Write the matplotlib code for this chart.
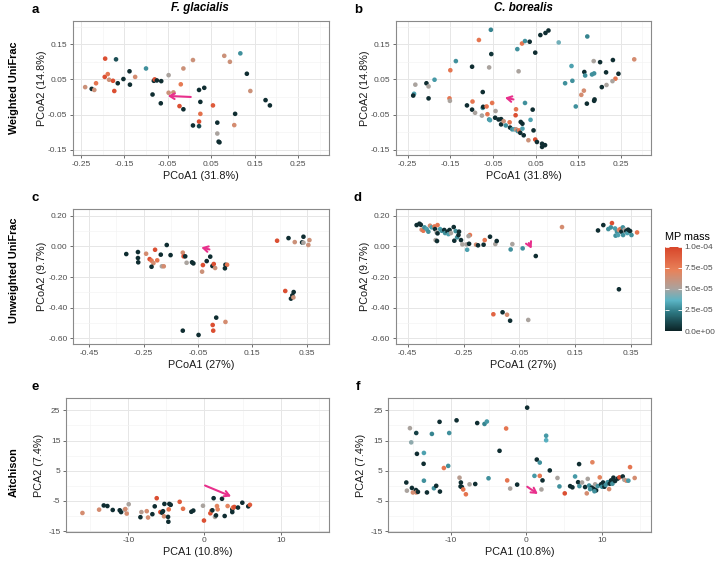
import numpy as np
import matplotlib
matplotlib.use("Agg")
import matplotlib.pyplot as plt
from matplotlib.colors import LinearSegmentedColormap, Normalize
from matplotlib.ticker import FixedLocator

plt.rcParams['font.family'] = ['Liberation Sans', 'DejaVu Sans']

# ---- data (MP mass in units of 1e-5) ----
# a: F. glacialis, weighted UniFrac
a_x = [-0.240, -0.225, -0.219, -0.215, -0.194, -0.195, -0.188, -0.185, -0.176, -0.173,
       -0.169, -0.165, -0.152, -0.138, -0.137, -0.125, -0.100, -0.085, -0.082, -0.080,
       -0.075, -0.065, -0.066, -0.048, -0.048, -0.037, -0.020, -0.014, -0.023, -0.014,
       0.008, 0.022, 0.034, 0.025, 0.025, 0.008, 0.022, 0.022, 0.054, 0.064,
       0.064, 0.067, 0.069, 0.080, 0.093, 0.103, 0.105, 0.117, 0.132, 0.140,
       0.175, 0.185]
a_y = [0.028, 0.023, 0.020, 0.039, 0.109, 0.057, 0.065, 0.049, 0.046, 0.017,
       0.107, 0.039, 0.051, 0.073, 0.035, 0.057, 0.081, 0.007, 0.046, 0.050,
       0.047, 0.045, -0.018, 0.062, 0.012, 0.013, 0.036, 0.081, -0.026, -0.035,
       0.105, 0.020, 0.026, -0.014, -0.048, -0.081, -0.070, -0.083, -0.024, -0.073,
       -0.104, -0.127, -0.129, 0.117, 0.100, -0.080, -0.048, 0.124, 0.066, 0.017,
       -0.009, -0.024]
a_m = [6.2, 0.3, 6.2, 7.8, 9.5, 9.5, 7.8, 6.2, 9.5, 9.5,
       1.2, 0.3, 0.3, 0.3, 0.3, 6.5, 2.8, 0.3, 0.3, 9.5,
       0.3, 0.3, 0.3, 5.0, 6.2, 6.2, 7.5, 6.2, 9.5, 0.3,
       6.2, 0.3, 0.3, 0.3, 8.0, 0.3, 9.5, 1.0, 9.0, 0.3,
       5.0, 0.3, 0.3, 6.2, 6.2, 6.5, 0.3, 2.8, 0.3, 6.2,
       0.3, 0.3]

# b: C. borealis, weighted UniFrac
b_x = [-0.235, -0.237, -0.232, -0.206, -0.201, -0.201, -0.187, -0.150, -0.152, -0.151,
       -0.137, -0.099, -0.083, -0.055, -0.054, -0.059, -0.074, -0.111, -0.098, -0.099,
       -0.092, -0.074, -0.073, -0.065, -0.052, -0.063, -0.076, -0.059, -0.057, -0.044,
       -0.045, -0.037, -0.031, -0.031, -0.025, -0.020, -0.011, -0.010, -0.005, 0.000,
       0.004, 0.008, 0.011, 0.014, 0.019, 0.022, 0.015, 0.019, 0.004, 0.003,
       0.025, 0.043, 0.038, 0.045, 0.033, 0.049, 0.053, 0.065, 0.072, 0.065,
       0.007, 0.018, 0.025, 0.036, 0.049, 0.010, 0.061, 0.073, 0.080, 0.104,
       0.171, 0.134, 0.119, 0.136, 0.144, 0.164, 0.166, 0.186, 0.182, 0.187,
       0.201, 0.215, 0.231, 0.244, 0.281, 0.237, 0.230, 0.216, 0.205, 0.163,
       0.157, 0.170, 0.187, 0.188]
b_y = [0.009, 0.004, 0.035, 0.039, 0.030, -0.004, 0.049, 0.076, -0.004, -0.011,
       0.102, 0.086, 0.162, 0.191, 0.122, 0.084, 0.014, -0.024, -0.013, -0.036,
       -0.045, -0.031, -0.028, -0.027, -0.017, -0.049, -0.053, -0.064, -0.066, -0.040,
       -0.059, -0.064, -0.063, -0.078, -0.069, -0.081, -0.072, -0.087, -0.092, -0.092,
       -0.092, -0.097, -0.095, -0.102, -0.090, -0.109, -0.071, -0.076, -0.035, -0.052,
       -0.017, -0.036, -0.065, -0.095, -0.123, -0.121, -0.128, -0.133, -0.137, -0.142,
       0.136, 0.152, 0.159, 0.157, 0.126, 0.073, 0.176, 0.182, 0.189, 0.155,
       0.172, 0.088, 0.039, 0.046, -0.027, 0.071, 0.061, 0.102, 0.064, 0.067,
       0.099, 0.070, 0.105, 0.066, 0.107, 0.052, 0.045, 0.034, 0.028, 0.018,
       0.006, -0.019, -0.011, -0.007]
b_m = [3.2, 0.3, 5.0, 0.3, 5.0, 0.3, 3.0, 7.8, 7.8, 5.0,
       2.8, 0.3, 7.8, 2.5, 0.5, 5.0, 0.3, 0.3, 7.8, 0.3,
       5.0, 2.8, 0.3, 7.8, 7.8, 7.8, 5.0, 2.8, 3.2, 5.0,
       0.3, 0.3, 0.3, 0.3, 6.2, 2.8, 7.8, 0.3, 2.8, 3.2,
       6.2, 2.8, 7.8, 0.3, 3.2, 0.3, 0.3, 0.3, 7.8, 9.5,
       2.8, 0.3, 3.2, 0.3, 6.2, 9.5, 0.3, 0.3, 0.3, 0.3,
       2.8, 7.8, 2.8, 0.3, 0.3, 5.0, 0.3, 0.3, 0.3, 4.0,
       2.5, 3.2, 2.8, 2.8, 2.8, 0.3, 2.8, 5.0, 2.8, 2.8,
       0.3, 0.3, 0.3, 0.3, 6.5, 7.8, 5.0, 5.0, 0.3, 6.5,
       6.5, 0.3, 0.3, 0.3]

# c: F. glacialis, unweighted UniFrac
c_x = [-0.314, -0.271, -0.271, -0.270, -0.241, -0.228, -0.221, -0.214, -0.221, -0.208,
       -0.200, -0.187, -0.183, -0.176, -0.165, -0.151, -0.106, -0.103, -0.097, -0.092,
       -0.072, -0.067, -0.106, -0.048, -0.035, -0.032, -0.018, -0.005, 0.003, 0.008,
       0.013, 0.004, 0.006, 0.017, 0.051, 0.051, 0.057, 0.049, 0.241, 0.283,
       0.306, 0.333, 0.338, 0.338, 0.356, 0.360, 0.271, 0.292, 0.297, 0.301,
       0.302]
c_y = [-0.050, -0.037, -0.076, -0.104, -0.048, -0.083, -0.093, -0.109, -0.133, -0.022,
       -0.091, -0.054, -0.130, -0.130, 0.009, -0.057, -0.041, -0.065, -0.065, -0.107,
       -0.104, -0.111, -0.550, -0.578, -0.165, -0.122, -0.096, -0.067, -0.128, -0.115,
       -0.141, -0.513, -0.550, -0.465, -0.493, -0.120, -0.120, -0.143, 0.037, 0.054,
       0.028, 0.026, 0.063, 0.024, 0.009, 0.041, -0.291, -0.341, -0.320, -0.333,
       -0.298]
c_m = [0.3, 0.3, 0.3, 0.3, 6.5, 9.5, 7.8, 6.5, 0.3, 9.5,
       7.8, 0.3, 5.0, 6.5, 0.3, 0.3, 6.5, 9.5, 0.3, 5.0,
       0.3, 0.3, 0.3, 0.3, 6.2, 9.5, 0.3, 0.3, 0.3, 9.5,
       6.2, 9.5, 9.5, 0.3, 6.5, 0.3, 7.8, 0.3, 9.5, 0.3,
       6.2, 0.3, 0.3, 5.0, 6.2, 6.2, 9.5, 0.3, 0.3, 6.2,
       0.3]

# d: C. borealis, unweighted UniFrac
d_x = [-0.418, -0.408, -0.403, -0.400, -0.394, -0.390, -0.382, -0.376, -0.370, -0.364,
       -0.354, -0.352, -0.346, -0.343, -0.343, -0.350, -0.345, -0.334, -0.328, -0.319,
       -0.316, -0.307, -0.304, -0.300, -0.295, -0.285, -0.283, -0.278, -0.273, -0.268,
       -0.266, -0.259, -0.254, -0.239, -0.237, -0.230, -0.227, -0.232, -0.205, -0.198,
       -0.178, -0.174, -0.155, -0.136, -0.131, -0.075, -0.081, -0.038, 0.009, 0.103,
       0.232, 0.251, 0.282, 0.278, 0.269, 0.293, 0.300, 0.307, 0.312, 0.316,
       0.321, 0.328, 0.333, 0.337, 0.340, 0.347, 0.352, 0.295, 0.304, 0.322,
       0.372, 0.307, -0.143, -0.110, -0.094, -0.083, -0.018]
d_y = [0.139, 0.148, 0.141, 0.109, 0.102, 0.124, 0.113, 0.096, 0.135, 0.124,
       0.130, 0.113, 0.091, 0.139, 0.085, 0.041, 0.035, 0.113, 0.102, 0.107,
       0.087, 0.096, 0.080, 0.107, 0.087, 0.126, 0.037, 0.100, 0.059, 0.074,
       0.096, 0.041, 0.013, 0.013, -0.022, 0.017, 0.074, 0.067, 0.011, 0.007,
       0.011, 0.041, 0.063, 0.015, 0.035, 0.015, -0.020, -0.013, -0.063, 0.126,
       0.104, 0.139, 0.152, 0.124, 0.113, 0.117, 0.096, 0.107, 0.113, 0.096,
       0.124, 0.109, 0.100, 0.087, 0.109, 0.100, 0.074, 0.070, 0.074, 0.074,
       0.091, -0.280, -0.443, -0.430, -0.446, -0.485, -0.480]
d_m = [0.3, 0.3, 0.3, 6.5, 7.8, 2.8, 3.2, 2.8, 6.5, 3.2,
       7.8, 0.3, 5.0, 7.8, 0.3, 5.0, 0.3, 3.2, 2.8, 0.3,
       2.8, 0.3, 3.2, 0.3, 5.0, 0.3, 0.3, 2.8, 2.8, 0.3,
       0.3, 0.3, 5.0, 5.0, 3.2, 0.3, 7.8, 5.0, 6.5, 0.3,
       0.3, 7.8, 0.3, 5.0, 0.3, 5.0, 2.8, 2.8, 0.3, 6.5,
       0.3, 0.3, 9.5, 2.8, 2.8, 3.2, 2.8, 6.5, 7.8, 0.3,
       2.8, 5.0, 0.3, 3.2, 0.3, 0.3, 2.8, 2.8, 3.2, 2.8,
       7.8, 0.3, 8.5, 0.3, 6.5, 0.3, 5.0]

# e: F. glacialis, Aitchison
e_x = [-16.04, -13.85, -13.24, -12.76, -12.06, -11.14, -10.96, -10.48, -10.39, -10.22,
       -9.96, -8.42, -8.29, -7.59, -7.42, -6.85, -6.54, -6.28, -5.80, -5.58,
       -5.45, -5.32, -5.27, -4.79, -4.75, -4.70, -4.62, -4.44, -3.26, -2.82,
       -1.73, -1.47, -0.20, -0.07, 0.77, 0.90, 1.03, 1.20, 1.38, 1.51,
       1.64, 1.73, 2.65, 2.30, 3.04, 3.65, 3.65, 3.74, 3.92, 4.40,
       4.97, 5.75, 5.97]
e_y = [-9.0, -7.9, -6.5, -6.7, -8.0, -8.1, -8.7, -7.9, -7.7, -9.2,
       -6.1, -10.4, -8.7, -8.4, -10.5, -9.4, -6.8, -4.1, -8.7, -8.9,
       -8.4, -10.1, -6.0, -10.3, -11.9, -7.8, -6.0, -6.3, -5.3, -7.6,
       -8.6, -8.2, -6.6, -11.5, -9.1, -8.3, -8.1, -4.1, -10.3, -9.8,
       -6.7, -7.8, -10.0, -4.3, -6.7, -7.8, -8.7, -7.2, -7.0, -7.2,
       -5.6, -6.8, -6.3]
e_m = [6.5, 6.5, 0.3, 0.3, 0.3, 0.3, 0.3, 5.0, 6.5, 6.5,
       5.0, 0.3, 5.5, 6.5, 6.5, 0.3, 0.3, 9.5, 9.5, 0.3,
       0.3, 6.5, 0.3, 0.3, 0.3, 8.0, 0.3, 0.3, 9.0, 8.0,
       0.3, 0.3, 5.0, 9.5, 9.5, 8.0, 0.3, 0.3, 5.0, 0.3,
       7.0, 7.0, 0.3, 0.3, 7.0, 0.3, 0.3, 8.0, 9.5, 0.3,
       0.3, 0.3, 9.0]

# f: C. borealis, Aitchison
f_x = [-15.35, -15.18, -14.52, -14.43, -13.55, -13.51, -13.51, -12.46, -11.45, -10.18,
       -10.31, -10.88, -9.21, -6.49, -5.53, -5.22, -2.68, -3.55, 0.09, 2.59,
       2.59, 1.36, 1.75, 3.07, -15.83, -15.75, -15.09, -14.96, -14.56, -14.52,
       -14.30, -13.11, -12.19, -11.89, -11.40, -8.82, -8.64, -8.68, -8.51, -8.33,
       -7.98, -7.50, -6.75, -5.00, -2.54, -2.15, -1.23, 1.05, 1.75, 2.11,
       1.97, 4.08, 4.34, 5.04, 5.75, 6.05, 6.40, 6.80, 6.93, 6.97,
       7.32, 7.72, 7.94, 8.07, 8.25, 8.68, 8.60, 8.86, 9.04, 9.17,
       9.39, 9.65, 9.82, 9.96, 10.09, 10.26, 10.44, 10.70, 10.88, 10.96,
       11.14, 11.32, 11.45, 11.67, 12.02, 12.24, 12.68, 12.89, 13.16, 13.42,
       13.64, 14.25, 8.38, 8.95]
f_y = [19.1, 14.4, 17.5, 10.6, 7.3, 10.9, 1.7, 17.2, 21.2, 17.5,
       6.6, 5.9, 21.7, 20.8, 20.5, 21.3, 19.0, 11.6, 25.9, 16.6,
       15.1, 8.7, 7.7, 5.1, 1.1, -1.6, -0.7, -2.2, -1.4, -2.2,
       -2.0, -2.2, -0.8, 0.0, -1.9, 2.7, 1.1, -0.2, -0.4, -1.2,
       -2.8, 0.5, 0.6, 2.5, 1.8, -0.9, 0.4, 3.3, 3.3, 1.8,
       -1.2, 2.6, -0.2, -2.5, -0.1, -0.5, 3.1, 1.2, 7.2, -0.1,
       1.1, -0.4, -2.5, 2.3, 0.1, 7.8, -0.6, -1.0, 0.5, -1.5,
       -0.1, 2.8, 0.5, -0.3, 1.1, -0.3, 0.3, 1.2, -1.1, 0.7,
       1.8, 0.7, 2.7, 1.6, 2.4, 2.8, 3.1, 2.0, 1.7, 1.7,
       6.2, 2.6, -1.1, -1.8]
f_m = [5.0, 4.5, 0.8, 0.3, 0.3, 3.2, 2.8, 2.5, 0.3, 2.8,
       2.8, 7.8, 0.3, 0.3, 2.5, 3.0, 7.8, 0.3, 0.3, 3.0,
       3.5, 0.3, 2.8, 0.3, 0.3, 5.0, 0.3, 6.5, 0.3, 6.5,
       0.3, 0.3, 2.8, 0.3, 0.3, 5.5, 0.3, 0.3, 0.3, 7.8,
       7.8, 5.0, 0.3, 2.8, 7.8, 5.0, 0.3, 3.0, 7.8, 0.3,
       5.0, 5.0, 2.8, 9.5, 0.3, 0.3, 3.0, 0.3, 0.3, 2.8,
       5.0, 0.3, 6.5, 5.0, 2.8, 7.0, 0.3, 0.3, 5.0, 0.3,
       2.8, 7.0, 0.3, 2.8, 0.3, 0.3, 2.8, 2.8, 6.5, 0.3,
       0.3, 2.8, 0.3, 0.3, 0.3, 9.5, 0.3, 5.0, 6.5, 3.0,
       7.8, 6.5, 2.8, 2.8]

# arrows (tail, head) per panel
arrows = {
    'a': ((0.003, 0.000), (-0.050, 0.003)),
    'b': ((-0.002, -0.007), (-0.022, -0.002)),
    'c': ((-0.008, -0.020), (-0.038, -0.007)),
    'd': ((-0.016, 0.022), (-0.006, -0.015)),
    'e': ((0.07, 0.1), (3.5, -3.5)),
    'f': ((0.1, -0.3), (1.5, -2.7)),
}

mp_cmap = LinearSegmentedColormap.from_list(
    'mp', [(0.0, '#0b2326'), (0.22, '#2c7680'), (0.36, '#5bb4c4'),
           (0.5, '#a9a39f'), (0.72, '#e8825a'), (1.0, '#d8452a')])
norm = Normalize(0, 1e-4)

# axes positions in pixels: left, top, right, bottom
W, H = 720, 561
def box(l, t, r, b):
    return [l / W, 1 - b / H, (r - l) / W, (b - t) / H]

fig = plt.figure(figsize=(7.2, 5.61), dpi=100)

panels = [
    ('a', a_x, a_y, a_m, box(73, 21, 329, 155), (-0.268, 0.321), (-0.165, 0.216),
     'PCoA1 (31.8%)', 'PCoA2 (14.8%)', '{:.2f}'),
    ('b', b_x, b_y, b_m, box(395.7, 21, 651.3, 155), (-0.278, 0.321), (-0.165, 0.216),
     'PCoA1 (31.8%)', 'PCoA2 (14.8%)', '{:.2f}'),
    ('c', c_x, c_y, c_m, box(73, 209.3, 329, 344.3), (-0.51, 0.432), (-0.639, 0.242),
     'PCoA1 (27%)', 'PCoA2 (9.7%)', '{:.2f}'),
    ('d', d_x, d_y, d_m, box(395.7, 209.3, 651.3, 344.3), (-0.493, 0.423), (-0.639, 0.242),
     'PCoA1 (27%)', 'PCoA2 (9.7%)', '{:.2f}'),
    ('e', e_x, e_y, e_m, box(66, 398.3, 329.3, 531.7), (-18.2, 16.4), (-15.2, 29.0),
     'PCA1 (10.8%)', 'PCA2 (7.4%)', '{:.0f}'),
    ('f', f_x, f_y, f_m, box(388.3, 398.3, 651, 531.7), (-18.2, 16.4), (-15.2, 29.0),
     'PCA1 (10.8%)', 'PCA2 (7.4%)', '{:.0f}'),
]

xticks = {'a': [-0.25, -0.15, -0.05, 0.05, 0.15, 0.25],
          'c': [-0.45, -0.25, -0.05, 0.15, 0.35],
          'e': [-10, 0, 10]}
yticks = {'a': [-0.15, -0.05, 0.05, 0.15],
          'c': [-0.6, -0.4, -0.2, 0.0, 0.2],
          'e': [-15, -5, 5, 15, 25]}
key = {'a': 'a', 'b': 'a', 'c': 'c', 'd': 'c', 'e': 'e', 'f': 'e'}

for name, px, py, pm, pos, xl, yl, xlab, ylab, fmt in panels:
    ax = fig.add_axes(pos)
    k = key[name]
    xt = xticks[k]
    yt = yticks[k]
    # minor grid lines half way between the major ones
    xs = xt[1] - xt[0]
    ys = yt[1] - yt[0]
    xminor = np.arange(xt[0] - xs * 1.5, xt[-1] + xs * 2, xs)
    yminor = np.arange(yt[0] - ys * 1.5, yt[-1] + ys * 2, ys)
    ax.xaxis.set_major_locator(FixedLocator(xt))
    ax.yaxis.set_major_locator(FixedLocator(yt))
    ax.xaxis.set_minor_locator(FixedLocator(xminor))
    ax.yaxis.set_minor_locator(FixedLocator(yminor))
    ax.grid(which='major', color='#e6e6e6', lw=0.7)
    ax.grid(which='minor', color='#f3f3f3', lw=0.45)
    ax.set_axisbelow(True)
    ax.tick_params(which='minor', length=0)
    ax.tick_params(which='major', length=2.5, width=0.6, color='#555555',
                   labelsize=6, labelcolor='#4d4d4d', pad=1.5)
    ax.set_xticklabels([fmt.format(v) for v in xt])
    ax.set_yticklabels([fmt.format(v) for v in yt])
    for sp in ax.spines.values():
        sp.set_color('#8a8a8a')
        sp.set_linewidth(0.8)

    ax.scatter(px, py, c=np.array(pm) * 1e-5, cmap=mp_cmap, norm=norm,
               s=11, linewidths=0, zorder=3)
    tail, head = arrows[name]
    ax.annotate('', xy=head, xytext=tail, zorder=4,
                arrowprops=dict(arrowstyle='->,head_length=0.35,head_width=0.2',
                                color='#e8308c', lw=1.5, shrinkA=0, shrinkB=0))
    ax.set_xlim(*xl)
    ax.set_ylim(*yl)
    ax.set_xlabel(xlab, fontsize=7.8, color='#1a1a1a')
    ax.set_ylabel(ylab, fontsize=7.8, color='#1a1a1a')
    axw = pos[2] * W
    axh = pos[3] * H
    off = 25.5 if name in 'abcd' else 22
    ax.yaxis.set_label_coords(-off / axw, 0.5)
    ax.xaxis.set_label_coords(0.5, -15.5 / axh)

# panel letters
letters = [('a', 35, 10), ('b', 358, 10), ('c', 35, 198), ('d', 358, 198),
           ('e', 35, 387), ('f', 358, 387)]
for t, x, y in letters:
    fig.text(x / W, 1 - y / H, t, fontsize=9.5, fontweight='bold', ha='center', va='center')

fig.text(200 / W, 1 - 8 / H, 'F. glacialis', fontsize=8.3, fontweight='bold',
         fontstyle='italic', ha='center', va='center')
fig.text(523 / W, 1 - 8 / H, 'C. borealis', fontsize=8.3, fontweight='bold',
         fontstyle='italic', ha='center', va='center')

rows = [('Weighted UniFrac', 87.5), ('Unweighted UniFrac', 270), ('Aitchison', 472.5)]
for t, y in rows:
    fig.text(14 / W, 1 - y / H, t, fontsize=7.8, fontweight='bold', rotation=90,
             ha='center', va='center')

# colour bar
cax = fig.add_axes(box(665, 246.7, 681.7, 331))
sm = plt.cm.ScalarMappable(norm=norm, cmap=mp_cmap)
cb = fig.colorbar(sm, cax=cax)
cb.outline.set_visible(False)
cbt = [0, 2.5e-5, 5e-5, 7.5e-5, 1e-4]
cb.set_ticks(cbt)
cb.set_ticklabels(['0.0e+00', '2.5e-05', '5.0e-05', '7.5e-05', '1.0e-04'])
cax.tick_params(length=3, width=0.6, color='white', direction='in', labelsize=6,
                labelcolor='#4d4d4d', pad=2, left=True)
fig.text(665 / W, 1 - 237 / H, 'MP mass', fontsize=7.8, ha='left', va='center')

fig.savefig('out.png', dpi=100)
